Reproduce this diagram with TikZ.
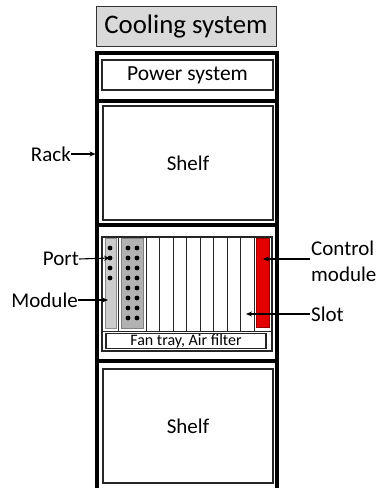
\documentclass[tikz,border=0pt]{standalone}
\usepackage{fontspec}
\setmainfont{Carlito}
\usetikzlibrary{arrows.meta}
\begin{document}
\begin{tikzpicture}[x=1pt,y=-1pt,
  rackline/.style={line width=4pt},
  innerbox/.style={draw=black!85,line width=1.3pt,fill=white},
  slotline/.style={draw=black!85,line width=0.9pt},
  lbl/.style={font=\fontsize{21}{26}\selectfont,inner sep=0pt},
  arr/.style={line width=1.1pt,-{Stealth[length=6pt,width=5pt]}},
  dot/.style={circle,fill=black,inner sep=0pt,minimum size=4.8pt}]
\useasboundingbox (0,0) rectangle (377,488);
% cooling
\node[draw=black!80,line width=0.9pt,fill=black!15,minimum width=180pt,minimum height=40pt,inner sep=0pt,
  font=\fontsize{26.8}{30}\selectfont] (cool) at (186,26) {Cooling system};
% rack
\draw[rackline] (97,488) -- (97,53) -- (277,53) -- (277,488);
\draw[rackline] (97,101) -- (277,101);
\draw[rackline] (97,225) -- (277,225);
\draw[rackline] (97,361) -- (277,361);
% power
\node[innerbox,minimum width=171pt,minimum height=30pt,inner sep=0pt,
  font=\fontsize{21.5}{26}\selectfont] (power) at (187.5,75) {Power system};
% shelves
\node[innerbox,minimum width=170pt,minimum height=114pt,inner sep=0pt,
  font=\fontsize{21}{26}\selectfont] (shelfA) at (188,163) {Shelf};
\node[innerbox,minimum width=170pt,minimum height=114pt,inner sep=0pt,
  font=\fontsize{21}{26}\selectfont] (shelfB) at (188,426) {Shelf};
% slot shelf frame
\node[draw=black!85,line width=1.1pt,minimum width=170pt,minimum height=114pt,inner sep=0pt] (frame) at (187,294) {};
\draw[slotline] (102,331) -- (272,331);
\foreach \x in {118,146,159,173,186,200,213,227,240,254}
  \draw[slotline] (\x,237) -- (\x,331);
\node[draw=black!85,line width=1.1pt,minimum width=160pt,minimum height=15pt,inner sep=0pt,
  font=\fontsize{16}{20}\selectfont] (fan) at (186,341) {Fan tray, Air filter};
% modules
\node[draw=black!45,line width=1pt,fill=black!20,minimum width=11pt,minimum height=90pt,inner sep=0pt] (modA) at (110.5,283) {};
\node[draw=black!50,line width=1pt,fill=black!30,minimum width=22pt,minimum height=90pt,inner sep=0pt] (modB) at (132.5,283) {};
\node[draw=red!60!black,line width=0.8pt,fill=red!90!black,minimum width=13pt,minimum height=89pt,inner sep=0pt] (ctrl) at (262.5,282.5) {};
\foreach \y [count=\i] in {248,258,268,278}
  \node[dot] (pa\i) at (110,\y) {};
\foreach \y in {248,258,...,318} {
  \node[dot] at (128,\y) {};
  \node[dot] at (137,\y) {};
}
% labels
\node[lbl,anchor=east] (rack) at (71,154) {Rack};
\node[lbl,anchor=east] (port) at (79,259) {Port};
\node[lbl,anchor=east] (module) at (78,300) {Module};
\node[lbl,anchor=west,align=left] (control) at (311,261) {Control\\module};
\node[lbl,anchor=west] (slot) at (311,314) {Slot};
\coordinate (rackT) at (95.5,154);
\coordinate (modT) at (108,300);
\coordinate (ctrlT) at (263,259);
\coordinate (slotT) at (246,314);
\draw[arr] (rack.east) -- (rackT);
\draw[arr] (port.east) -- (pa2.center);
\draw[arr] (module.east) -- (modT);
\draw[arr] (310,259) -- (ctrlT);
\draw[arr] (slot.west) ++(-1,0) -- (slotT);
\end{tikzpicture}
\end{document}
